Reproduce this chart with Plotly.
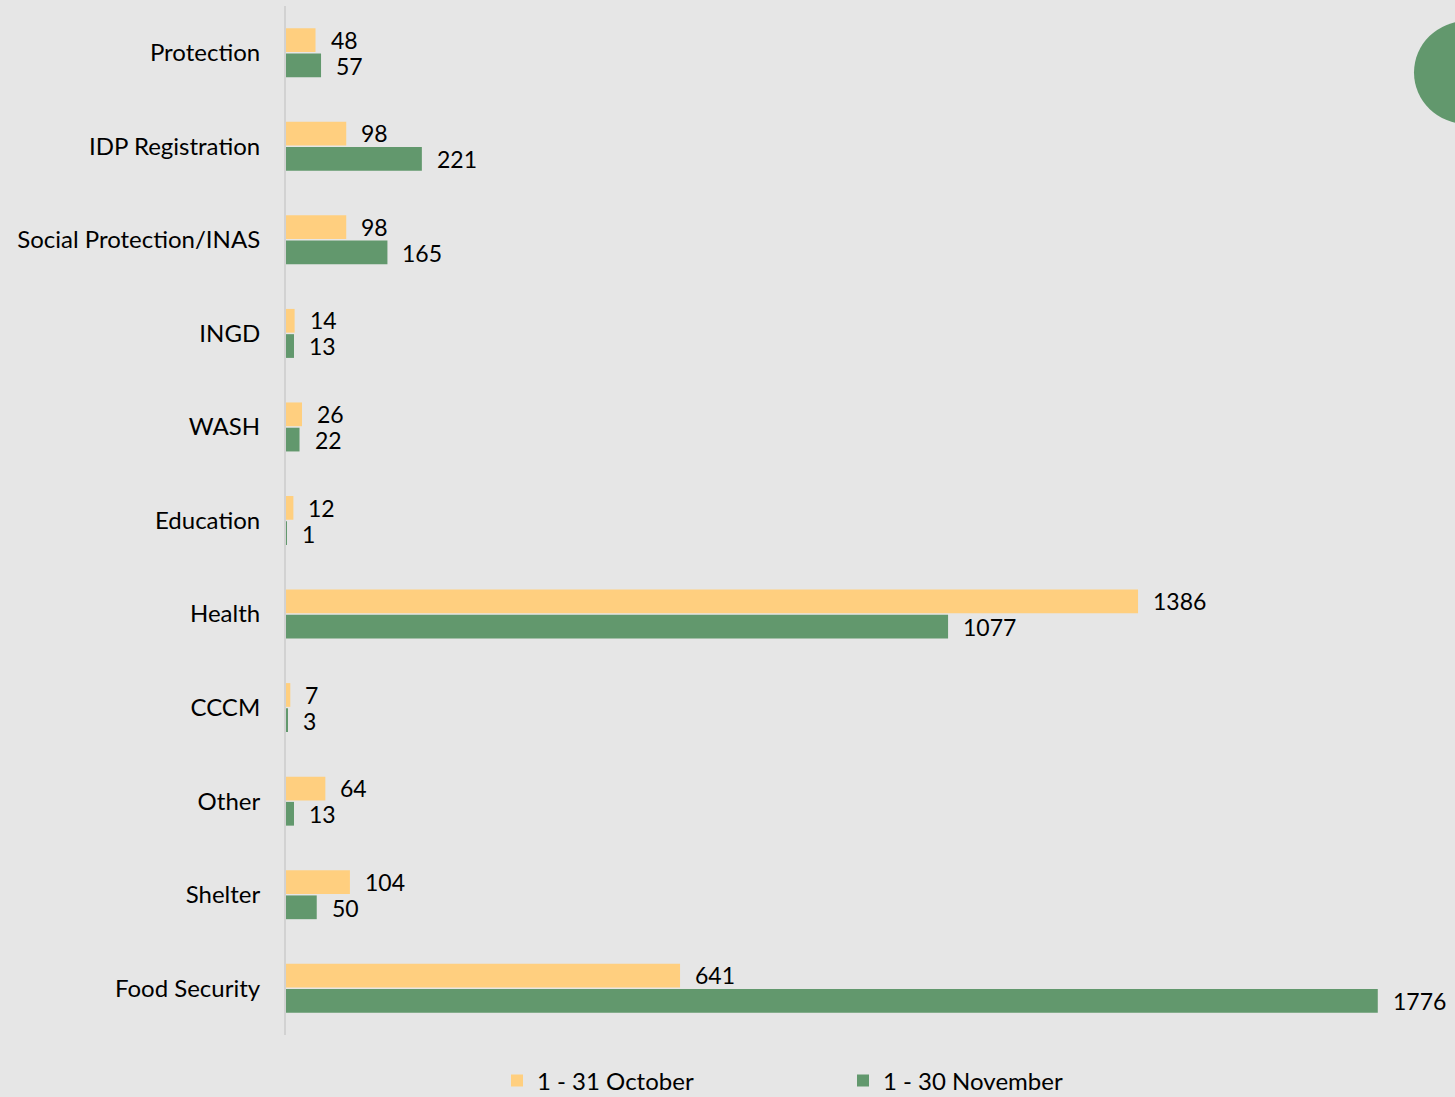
import plotly.graph_objects as go

# Referrals by sector, two reporting periods
sectors = ["Protection", "IDP Registration", "Social Protection/INAS", "INGD", "WASH",
           "Education", "Health", "CCCM", "Other", "Shelter", "Food Security"]
october = [48, 98, 98, 14, 26, 12, 1386, 7, 64, 104, 641]
november = [57, 221, 165, 13, 22, 1, 1077, 3, 13, 50, 1776]
series_names = ["1 - 31 October", "1 - 30 November"]

ORANGE = "#FFCF7F"
GREEN = "#62986D"
BG = "#E6E6E6"
FONT = "Lato, Calibri, sans-serif"

# plot area geometry (pixels)
W, H = 1455, 1097
L, R, T, B = 286, 1454, 6, 1035
XMAX = 1900

fig = go.Figure()
fig.add_trace(go.Bar(y=sectors, x=october, orientation="h", name=series_names[0],
                     marker=dict(color=ORANGE, line=dict(width=0))))
fig.add_trace(go.Bar(y=sectors, x=november, orientation="h", name=series_names[1],
                     marker=dict(color=GREEN, line=dict(width=0))))

# value labels placed just past each bar end
for vals, shift in ((october, 13), (november, -13)):
    for s, v in zip(sectors, vals):
        fig.add_annotation(x=v, y=s, text=str(v), showarrow=False,
                           xanchor="left", yanchor="middle", xshift=13, yshift=shift,
                           font=dict(family=FONT, size=23, color="#000000"))

# decorative disc in the top-right corner
def px_x(p):
    return (p - L) / (R - L)

def px_y(p):
    return (B - p) / (B - T)

fig.add_shape(type="circle", xref="paper", yref="paper",
              x0=px_x(1414), x1=px_x(1520), y0=px_y(124), y1=px_y(21),
              fillcolor=GREEN, line=dict(width=0), layer="above")

fig.update_layout(
    width=W, height=H,
    paper_bgcolor=BG, plot_bgcolor=BG,
    margin=dict(l=L, r=W - R, t=T, b=H - B, pad=0, autoexpand=False),
    barmode="group", bargap=0.46, bargroupgap=0.06,
    font=dict(family=FONT, size=24, color="#000000"),
    showlegend=True,
    legend=dict(orientation="h", x=px_x(497), y=px_y(1081), xanchor="left", yanchor="middle",
                entrywidth=301, entrywidthmode="pixels",
                font=dict(family=FONT, size=24, color="#000000"),
                bgcolor="rgba(0,0,0,0)", itemclick=False, itemwidth=30),
    xaxis=dict(range=[0, XMAX], visible=False, showgrid=False, zeroline=False),
    yaxis=dict(autorange="reversed", showgrid=False, zeroline=False,
               showline=True, linecolor="#D2D2D2", linewidth=2,
               ticks="", ticklabelstandoff=19,
               tickfont=dict(family=FONT, size=24, color="#000000")),
)

fig.write_html("out.html")
